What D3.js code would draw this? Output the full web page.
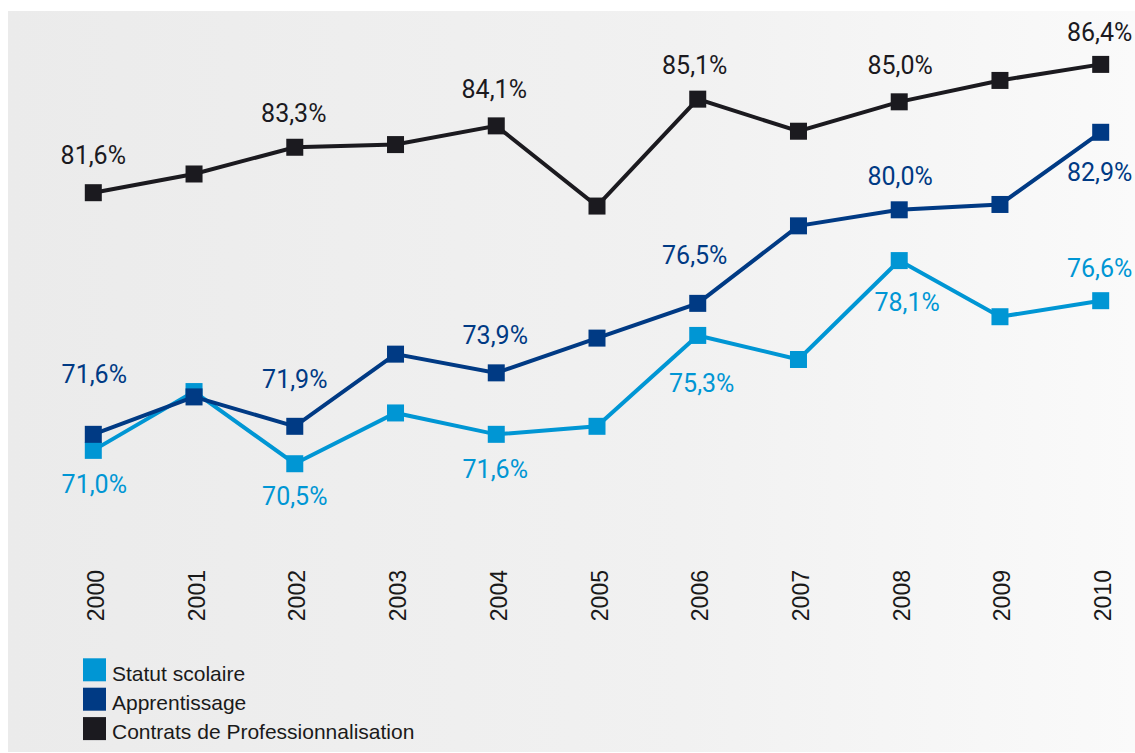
<!DOCTYPE html>
<html>
<head>
<meta charset="utf-8">
<script src="https://cdn.jsdelivr.net/npm/d3@7"></script>
<style>
  html, body { margin: 0; padding: 0; background: #ffffff; }
  svg { display: block; }
</style>
</head>
<body>
<svg id="chart" width="1135" height="753"></svg>
<script>
// ---- Data ----
const years = [2000, 2001, 2002, 2003, 2004, 2005, 2006, 2007, 2008, 2009, 2010];
const seriesNames = ["Statut scolaire", "Apprentissage", "Contrats de Professionnalisation"];
const statutScolaire = [71.0, 73.2, 70.5, 72.4, 71.6, 71.9, 75.3, 74.4, 78.1, 76.0, 76.6];
const apprentissage  = [71.6, 73.0, 71.9, 74.6, 73.9, 75.2, 76.5, 79.4, 80.0, 80.2, 82.9];
const contratsPro    = [81.6, 82.3, 83.3, 83.4, 84.1, 81.1, 85.1, 83.9, 85.0, 85.8, 86.4];
const labelledYears  = [2000, 2002, 2004, 2006, 2008, 2010];

// ---- Styling / layout ----
const colors = ["#0096d4", "#003a84", "#1b1a1f"];
// label placement per series (baseline offset from the marker, px), in order of labelledYears
const labelLayout = [
  [[1, 43], [0, 41], [-1, 44], [4, 57], [8, 50], [-1, -24]],
  [[1, -51], [0, -38], [-1, -29], [-3, -39], [1, -25], [-1, 49]],
  [[0, -29], [-1, -25], [-2, -28], [-3, -25], [1, -28], [-1, -23]]
];

const svg = d3.select("#chart");

// background with soft horizontal gradient
const defs = svg.append("defs");
const grad = defs.append("linearGradient").attr("id", "bg").attr("x1", "0%").attr("x2", "100%").attr("y1", "0%").attr("y2", "0%");
grad.append("stop").attr("offset", "0%").attr("stop-color", "#ebebeb");
grad.append("stop").attr("offset", "60%").attr("stop-color", "#f1f1f1");
grad.append("stop").attr("offset", "100%").attr("stop-color", "#fafafa");
svg.append("rect").attr("x", 8).attr("y", 11).attr("width", 1127).attr("height", 741).attr("fill", "url(#bg)");

// scales
const x = d3.scaleLinear().domain([2000, 2010]).range([93.3, 1100.7]);
const y = d3.scaleLinear().domain([70, 87]).range([477.1, 22.7]);
// the professionalisation curve is drawn on a shifted axis in the original
const yC = d3.scaleLinear().domain([70.96, 87.96]).range([477.1, 22.7]);

const series = [
  { name: seriesNames[0], values: statutScolaire, color: colors[0], scale: y },
  { name: seriesNames[1], values: apprentissage,  color: colors[1], scale: y },
  { name: seriesNames[2], values: contratsPro,    color: colors[2], scale: yC }
];

const fmt = v => d3.format(".1f")(v).replace(".", ",") + "%";
const markerSize = 17;

series.forEach((s, si) => {
  const pts = years.map((yr, i) => ({ year: yr, value: s.values[i] }));
  const line = d3.line().x(d => x(d.year)).y(d => s.scale(d.value));
  const g = svg.append("g");
  g.append("path")
    .datum(pts)
    .attr("d", line)
    .attr("fill", "none")
    .attr("stroke", s.color)
    .attr("stroke-width", 4)
    .attr("stroke-linejoin", "miter");
  g.selectAll("rect.m")
    .data(pts)
    .join("rect")
    .attr("class", "m")
    .attr("x", d => x(d.year) - markerSize / 2)
    .attr("y", d => s.scale(d.value) - markerSize / 2)
    .attr("width", markerSize)
    .attr("height", markerSize)
    .attr("fill", s.color);
});

// value labels
series.forEach((s, si) => {
  const pts = labelledYears.map((yr, k) => ({ year: yr, value: s.values[years.indexOf(yr)], off: labelLayout[si][k] }));
  svg.append("g").selectAll("text")
    .data(pts)
    .join("text")
    .attr("x", d => x(d.year) + d.off[0])
    .attr("y", d => s.scale(d.value) + d.off[1])
    .attr("text-anchor", "middle")
    .attr("font-family", "Roboto, 'Noto Sans', sans-serif")
    .attr("font-size", 25)
    .attr("fill", s.color)
    .text(d => fmt(d.value));
});

// x axis labels (rotated years)
const axisG = svg.append("g");
const xAxis = d3.axisBottom(x).tickValues(years).tickFormat(d3.format("d")).tickSize(0);
axisG.call(xAxis);
axisG.select(".domain").remove();
axisG.selectAll(".tick").attr("transform", null);
axisG.selectAll(".tick text")
  .attr("transform", d => `translate(${x(d) + 10.5},570) rotate(-90)`)
  .attr("x", 0).attr("y", 0).attr("dy", 0)
  .attr("text-anchor", "end")
  .attr("font-family", "'Liberation Sans', Arial, sans-serif")
  .attr("font-size", 23)
  .attr("fill", "#1a1a1a");

// legend
const legend = svg.append("g");
series.forEach((s, i) => {
  const ly = 658.3 + i * 29.4;
  legend.append("rect").attr("x", 83).attr("y", ly).attr("width", 23).attr("height", 23).attr("fill", s.color);
  legend.append("text").attr("x", 112).attr("y", ly + 22.3)
    .attr("font-family", "'Liberation Sans', Arial, sans-serif")
    .attr("font-size", 21)
    .attr("fill", "#1a1a1a")
    .text(s.name);
});
</script>
</body>
</html>
